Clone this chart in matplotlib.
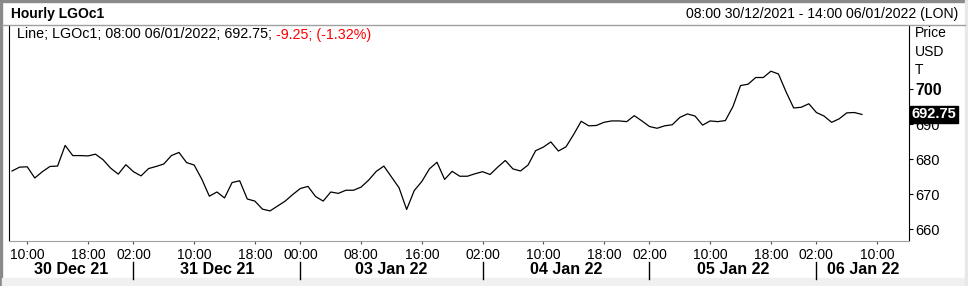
import numpy as np
import matplotlib as mpl
mpl.use('Agg')
import matplotlib.pyplot as plt
import matplotlib.transforms as mtrans
from matplotlib.lines import Line2D
from matplotlib.patches import Rectangle

plt.rcParams['font.family'] = ['Liberation Sans', 'DejaVu Sans']

# hourly closes, 08:00 30/12/2021 .. 08:00 06/01/2022 (trading hours only)
prices = [676.6, 677.7, 677.8, 674.6, 676.4, 677.9, 678.0, 683.9, 681.0, 681.0,
          680.9, 681.4, 679.8, 677.4, 675.7, 678.4, 676.4, 675.2, 677.3, 677.9,
          678.6, 681.0, 681.9, 679.0, 678.3, 674.3, 669.4, 670.6, 668.9, 673.3,
          673.8, 668.6, 668.0, 665.7, 665.2, 666.6, 668.0, 669.9, 671.6, 672.2,
          669.3, 668.0, 670.6, 670.2, 671.1, 671.1, 672.0, 674.0, 676.5, 678.0,
          674.9, 671.8, 665.6, 671.0, 673.6, 677.2, 679.1, 674.2, 676.5, 675.1,
          675.1, 675.8, 676.4, 675.6, 677.7, 679.6, 677.2, 676.6, 678.3, 682.4,
          683.4, 684.9, 682.3, 683.5, 687.0, 690.8, 689.5, 689.6, 690.5, 690.9,
          690.9, 690.7, 692.4, 690.9, 689.3, 688.8, 689.5, 689.8, 691.9, 692.9,
          692.3, 689.7, 690.9, 690.7, 691.0, 695.0, 701.0, 701.4, 703.3, 703.3,
          705.1, 704.3, 699.2, 694.6, 694.8, 695.8, 693.3, 692.3, 690.5, 691.5,
          693.2, 693.3, 692.75]

# hour ticks as bar index
tick_pos = [2, 10, 16, 24, 32, 38, 46, 54, 62, 70, 78, 84, 92, 100, 106, 114]
tick_lbl = ['10:00', '18:00', '02:00', '10:00', '18:00', '00:00', '08:00', '16:00',
            '02:00', '10:00', '18:00', '02:00', '10:00', '18:00', '02:00', '10:00']
day_bounds = [16, 38, 62, 84, 106]
day_lbl = ['30 Dec 21', '31 Dec 21', '03 Jan 22', '04 Jan 22', '05 Jan 22', '06 Jan 22']
y_ticks = [660, 670, 680, 690, 700]

W, H = 968, 286
fig = plt.figure(figsize=(W/100, H/100), dpi=100)
fig.patch.set_facecolor('white')

# outer frame bits
fig.patches.append(Rectangle((0, 0), 2/W, 1, transform=fig.transFigure, color='#8a8a8a', zorder=0))
fig.patches.append(Rectangle((0, 1-2/H), 1, 2/H, transform=fig.transFigure, color='#8a8a8a', zorder=0))
fig.patches.append(Rectangle((2/W, 0), 1, 8/H, transform=fig.transFigure, color='#f0f0f0', zorder=0))
fig.patches.append(Rectangle((1-3/W, 0), 3/W, 1, transform=fig.transFigure, color='#e8e8e8', zorder=0))
fig.lines.append(Line2D([2/W, 1-3/W], [1-25/H, 1-25/H], transform=fig.transFigure, color='#a0a0a0', lw=1))

ax = fig.add_axes([9/W, 1-241/H, 900/W, 216/H])
x = np.arange(len(prices))
ax.plot(x, prices, color='black', lw=0.9)
ax.set_xlim(-0.4, 118.2)
ax.set_ylim(656.6, 718.3)

ax.spines['top'].set_visible(False)
ax.spines['bottom'].set_color('#a0a0a0')
ax.spines['left'].set_color('black')
ax.spines['right'].set_color('black')

ax.yaxis.tick_right()
ax.set_yticks(y_ticks)
ax.set_yticklabels([str(v) for v in y_ticks], fontsize=10.5)
ax.get_yticklabels()[-1].set_fontweight('bold')
ax.get_yticklabels()[-1].set_fontsize(11.5)
ax.tick_params(axis='y', direction='out', length=3, pad=1.5, color='black')

ax.set_xticks(tick_pos)
ax.set_xticklabels(tick_lbl, fontsize=10)
ax.tick_params(axis='x', direction='out', length=2.5, pad=2.5, color='#505050')

# day labels and separators under the hour labels
bt = mtrans.blended_transform_factory(ax.transData, fig.transFigure)
for b in day_bounds:
    fig.lines.append(Line2D([b, b], [1-262/H, 1-279/H], transform=bt, color='black', lw=1))
edges = [-0.4] + day_bounds + [118.2]
for i, d in enumerate(day_lbl):
    ax.text((edges[i] + edges[i+1]) / 2, 1-269.5/H, d, transform=bt, ha='center', va='center',
            fontsize=11.6, fontweight='bold')

# header
fig.text(11/W, 1-14/H, 'Hourly LGOc1', fontsize=10, fontweight='bold', va='center', ha='left')
fig.text(958/W, 1-14/H, '08:00 30/12/2021 - 14:00 06/01/2022 (LON)', fontsize=10.1,
         va='center', ha='right')
t1 = fig.text(17/W, 1-34.5/H, 'Line; LGOc1; 08:00 06/01/2022; 692.75; ', fontsize=10.3,
              va='center', ha='left')
ax.annotate('-9.25; (-1.32%)', xy=(1, 0.5), xycoords=t1, va='center', ha='left',
            fontsize=10.3, color='#ff0000', annotation_clip=False)

# axis unit labels
for lbl, yy in zip(['Price', 'USD', 'T'], [33, 51.5, 70]):
    fig.text(915/W, 1-yy/H, lbl, fontsize=10, va='center', ha='left')

# last value marker
last = prices[-1]
ax.text(1.003, last, '%.2f' % last, transform=mtrans.blended_transform_factory(ax.transAxes, ax.transData),
        fontsize=10.5, fontweight='bold', color='white', va='center', ha='left',
        bbox=dict(boxstyle='square,pad=0.1', fc='black', ec='black'), zorder=5, clip_on=False)

fig.savefig('out.png', dpi=100)
